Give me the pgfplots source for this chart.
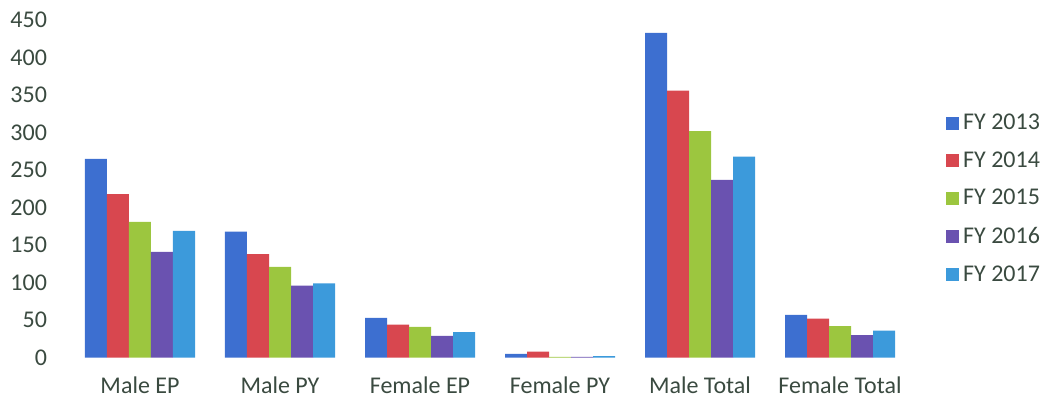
\documentclass[border=0pt]{standalone}
\usepackage{pgfplots}
\pgfplotsset{compat=1.18}
\usepackage{fontspec}
\setmainfont{Carlito}

\definecolor{fyA}{HTML}{3D6FD0}
\definecolor{fyB}{HTML}{D8474F}
\definecolor{fyC}{HTML}{9CC63F}
\definecolor{fyD}{HTML}{6A52B0}
\definecolor{fyE}{HTML}{3C9ADB}
\definecolor{txt}{HTML}{3A4A40}

\begin{document}
\begin{tikzpicture}
    % fix the page to the reference's proportions (1 px = 0.5 pt)
    \path[use as bounding box] (-35pt,-21.15pt) rectangle (487.5pt,178.85pt);
    \begin{axis}[
        scale only axis,
        width=420pt,
        height=168.85pt,
        ybar=0pt,
        bar width=11pt,
        ymin=0, ymax=450,
        ytick={0,50,...,450},
        xmin=-0.5, xmax=5.5,
        xtick={0,...,5},
        xticklabels={Male EP, Male PY, Female EP, Female PY, Male Total, Female Total},
        axis line style={draw=none},
        major tick length=0pt,
        tick label style={font=\fontsize{12}{14}\selectfont, text=txt},
        /pgf/number format/assume math mode=true,
        yticklabel style={xshift=-8pt},
        xticklabel style={yshift=-6pt},
        legend style={
            at={(1,0.47)}, anchor=west, xshift=18pt,
            draw=none, fill=none,
            font=\fontsize{12}{14}\selectfont, text=txt,
            row sep=5.6pt,
            inner sep=0pt,
        },
        legend cell align=left,
        legend image code/.code={\fill[#1] (0pt,-3.2pt) rectangle (6.4pt,3.2pt);},
        ]
        \addplot[fill=fyA, draw=none] coordinates {(0,265) (1,168) (2,53) (3,5) (4,433) (5,57)};
        \addplot[fill=fyB, draw=none] coordinates {(0,218) (1,138) (2,44) (3,8) (4,356) (5,52)};
        \addplot[fill=fyC, draw=none] coordinates {(0,181) (1,121) (2,41) (3,1) (4,302) (5,42)};
        \addplot[fill=fyD, draw=none] coordinates {(0,141) (1,96) (2,29) (3,1) (4,237) (5,30)};
        \addplot[fill=fyE, draw=none] coordinates {(0,169) (1,99) (2,34) (3,2) (4,268) (5,36)};
        \legend{FY 2013, FY 2014, FY 2015, FY 2016, FY 2017}
    \end{axis}
\end{tikzpicture}
\end{document}
